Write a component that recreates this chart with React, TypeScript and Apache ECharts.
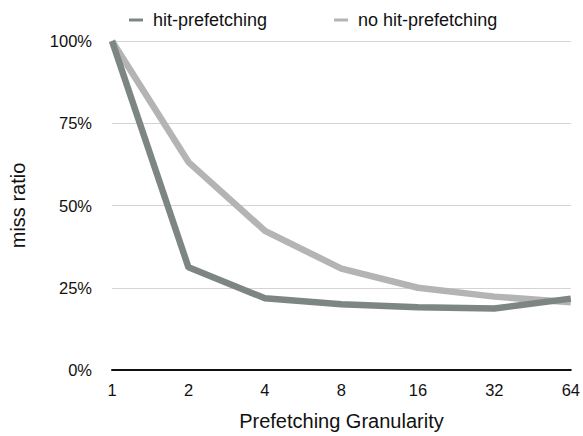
import React, { useEffect, useRef } from "react";
import * as echarts from "echarts";

const categories = ["1", "2", "4", "8", "16", "32", "64"];
const hitPrefetching = [100, 31.2, 21.8, 20, 19.1, 18.7, 21.7];
const noHitPrefetching = [100, 63.2, 42.3, 30.8, 25, 22.3, 20.6];
const seriesNames = ["hit-prefetching", "no hit-prefetching"];
const yTicks = [0, 25, 50, 75, 100];

const DARK = "#7e8682";
const LIGHT = "#b4b4b4";
const FONT = "Liberation Sans, Arial, Helvetica, sans-serif";

export default function App() {
  const ref = useRef<HTMLDivElement>(null);
  useEffect(() => {
    if (!ref.current) return;
    const chart = echarts.init(ref.current, null, { renderer: "svg" });
    chart.setOption({
      animation: false,
      backgroundColor: "#ffffff",
      textStyle: { fontFamily: FONT },
      legend: {
        top: 6,
        left: 124,
        itemWidth: 14,
        itemHeight: 3,
        itemGap: 67,
        icon: "rect",
        textStyle: { fontSize: 18, color: "#111", fontFamily: FONT, padding: [0, 0, 0, 5] },
        data: seriesNames,
      },
      grid: { left: 104, right: 11, top: 41, bottom: 61, containLabel: false },
      xAxis: {
        type: "category",
        data: categories,
        boundaryGap: false,
        name: "Prefetching Granularity",
        nameLocation: "middle",
        nameGap: 41,
        nameTextStyle: { fontSize: 20, color: "#111", fontFamily: FONT },
        axisLine: { show: true, lineStyle: { color: "#111", width: 2 } },
        axisTick: { show: false },
        axisLabel: { fontSize: 16.5, color: "#111", margin: 11, fontFamily: FONT },
        splitLine: { show: false },
      },
      yAxis: {
        type: "value",
        min: yTicks[0],
        max: yTicks[yTicks.length - 1],
        interval: 25,
        name: "miss ratio",
        nameLocation: "middle",
        nameGap: 84,
        nameRotate: 90,
        nameTextStyle: { fontSize: 20, color: "#111", fontFamily: FONT },
        axisLine: { show: false },
        axisTick: { show: false },
        axisLabel: {
          fontSize: 16.5,
          color: "#111",
          margin: 20,
          fontFamily: FONT,
          formatter: (v: number) => v + "%",
        },
        splitLine: { show: true, lineStyle: { color: "#d4d4d4", width: 1 } },
      },
      series: [
        {
          name: seriesNames[0],
          type: "line",
          data: hitPrefetching,
          showSymbol: false,
          symbol: "none",
          color: DARK,
          lineStyle: { color: DARK, width: 6.5 },
          z: 3,
        },
        {
          name: seriesNames[1],
          type: "line",
          data: noHitPrefetching,
          showSymbol: false,
          symbol: "none",
          color: LIGHT,
          lineStyle: { color: LIGHT, width: 6.5 },
          z: 2,
        },
      ],
    });
    return () => chart.dispose();
  }, []);
  return <div ref={ref} style={{ width: 583, height: 436, position: "absolute", left: 0, top: 0 }} />;
}
